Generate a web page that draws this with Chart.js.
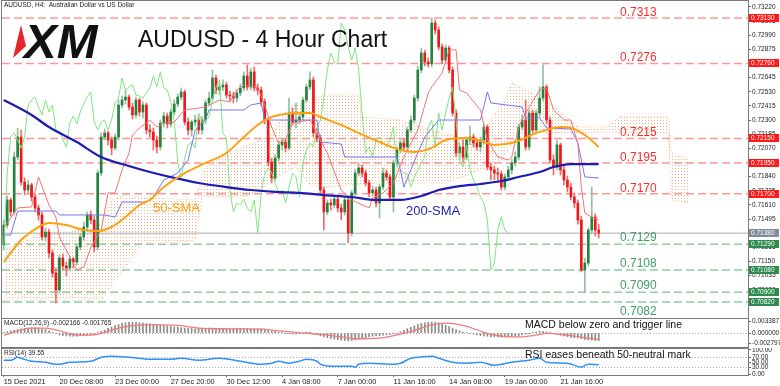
<!DOCTYPE html>
<html>
<head>
<meta charset="utf-8">
<title>AUDUSD - 4 Hour Chart</title>
<script src="https://cdn.jsdelivr.net/npm/chart.js@4.4.1/dist/chart.umd.min.js"></script>
<style>
  html, body { margin: 0; padding: 0; background: #fff; }
  #wrap { position: relative; width: 780px; height: 386px; overflow: hidden; background: #fff; }
  #wrap canvas { position: absolute; left: 0; }
</style>
</head>
<body>
<div id="wrap">
  <canvas id="priceChart" width="780" height="319" style="top:0"></canvas>
  <canvas id="macdChart" width="780" height="30" style="top:318px"></canvas>
  <canvas id="rsiChart" width="780" height="38" style="top:348px"></canvas>
</div>
<script>
const FONT = '"Liberation Sans", Arial, sans-serif';

// one entry per 4-hour bar, bar 0 = 15 Dec 2021 16:00
const firstOpen = 0.71284;
const closes = [
  0.71446, 0.71650, 0.71552, 0.71999, 0.72162, 0.71796, 0.71731, 0.71772, 0.71674, 0.71585,
  0.71528, 0.71349, 0.71389, 0.71219, 0.71056, 0.70918, 0.71178, 0.71113, 0.71096, 0.71170,
  0.71145, 0.71267, 0.71349, 0.71430, 0.71528, 0.71487, 0.71267, 0.71869, 0.72162, 0.72195,
  0.72138, 0.72073, 0.72162, 0.72422, 0.72463, 0.72487, 0.72406, 0.72341, 0.72463, 0.72365,
  0.72422, 0.72219, 0.72203, 0.72138, 0.72081, 0.72276, 0.72333, 0.72268, 0.72365, 0.72430,
  0.72487, 0.72528, 0.72284, 0.72219, 0.72284, 0.72300, 0.72219, 0.72300, 0.72439, 0.72479,
  0.72642, 0.72544, 0.72569, 0.72585, 0.72504, 0.72496, 0.72479, 0.72520, 0.72561, 0.72658,
  0.72569, 0.72691, 0.72561, 0.72544, 0.72447, 0.72300, 0.71959, 0.71829, 0.71991, 0.72097,
  0.72121, 0.72073, 0.72357, 0.72284, 0.72300, 0.72325, 0.72463, 0.72569, 0.72626, 0.72195,
  0.72154, 0.71731, 0.71552, 0.71625, 0.71609, 0.71658, 0.71585, 0.71552, 0.71650, 0.71381,
  0.71707, 0.71869, 0.71910, 0.71869, 0.71788, 0.71707, 0.71731, 0.71625, 0.71755, 0.71869,
  0.71837, 0.71674, 0.71951, 0.72056, 0.72113, 0.72081, 0.72219, 0.72300, 0.72479, 0.72707,
  0.72845, 0.72772, 0.72756, 0.73089, 0.73032, 0.72894, 0.72788, 0.72886, 0.72707, 0.72357,
  0.72032, 0.72081, 0.71999, 0.72138, 0.72162, 0.72113, 0.72081, 0.72138, 0.72243, 0.71918,
  0.71894, 0.71869, 0.71861, 0.71755, 0.71837, 0.71894, 0.71951, 0.71999, 0.72243, 0.72300,
  0.72081, 0.72357, 0.72219, 0.72357, 0.72479, 0.72569, 0.72300, 0.71975, 0.71918, 0.72097,
  0.71894, 0.71812, 0.71755, 0.71674, 0.71625, 0.71487, 0.71080, 0.71137, 0.71406, 0.71511,
  0.71406, 0.71380
];
const highs = [
  0.71487, 0.71682, 0.71666, 0.72040, 0.72235, 0.72219, 0.71829, 0.71812, 0.71788, 0.71698,
  0.71609, 0.71552, 0.71422, 0.71414, 0.71243, 0.71096, 0.71202, 0.71210, 0.71145, 0.71194,
  0.71186, 0.71284, 0.71373, 0.71471, 0.71552, 0.71560, 0.71519, 0.71894, 0.72195, 0.72227,
  0.72211, 0.72162, 0.72186, 0.72463, 0.72496, 0.72544, 0.72504, 0.72439, 0.72487, 0.72479,
  0.72447, 0.72439, 0.72260, 0.72235, 0.72170, 0.72300, 0.72365, 0.72357, 0.72390, 0.72463,
  0.72512, 0.72561, 0.72544, 0.72317, 0.72300, 0.72341, 0.72325, 0.72325, 0.72463, 0.72528,
  0.72707, 0.72666, 0.72601, 0.72626, 0.72609, 0.72536, 0.72528, 0.72544, 0.72593, 0.72691,
  0.72748, 0.72723, 0.72731, 0.72593, 0.72569, 0.72471, 0.72317, 0.71991, 0.72016, 0.72130,
  0.72154, 0.72146, 0.72479, 0.72398, 0.72439, 0.72357, 0.72487, 0.72593, 0.72691, 0.72650,
  0.72235, 0.72178, 0.71755, 0.71650, 0.71658, 0.71682, 0.71682, 0.71617, 0.71674, 0.71674,
  0.71731, 0.71894, 0.71951, 0.71934, 0.71894, 0.71812, 0.71763, 0.71755, 0.71780, 0.71910,
  0.71894, 0.71861, 0.71975, 0.72081, 0.72138, 0.72146, 0.72243, 0.72333, 0.72504, 0.72740,
  0.72886, 0.72870, 0.72805, 0.73130, 0.73114, 0.73057, 0.72918, 0.72910, 0.72902, 0.72731,
  0.72382, 0.72113, 0.72138, 0.72162, 0.72252, 0.72186, 0.72138, 0.72162, 0.72268, 0.72260,
  0.71951, 0.71926, 0.71910, 0.71885, 0.71861, 0.71926, 0.71983, 0.72040, 0.72268, 0.72341,
  0.72463, 0.72382, 0.72382, 0.72382, 0.72569, 0.72748, 0.72585, 0.72325, 0.72016, 0.72138,
  0.72113, 0.71934, 0.71845, 0.71788, 0.71707, 0.71650, 0.71519, 0.71178, 0.71422, 0.71755,
  0.71536, 0.71454
];
const lows = [
  0.71243, 0.71422, 0.71519, 0.71528, 0.71975, 0.71772, 0.71690, 0.71707, 0.71641, 0.71552,
  0.71487, 0.71324, 0.71316, 0.71178, 0.71023, 0.70812, 0.70893, 0.71080, 0.71031, 0.71072,
  0.71096, 0.71121, 0.71243, 0.71324, 0.71406, 0.71454, 0.71227, 0.71243, 0.71845, 0.72138,
  0.72097, 0.72016, 0.72056, 0.72138, 0.72398, 0.72430, 0.72382, 0.72308, 0.72317, 0.72333,
  0.72317, 0.72186, 0.72162, 0.72056, 0.72032, 0.72056, 0.72243, 0.72235, 0.72243, 0.72341,
  0.72406, 0.72463, 0.72260, 0.72178, 0.72170, 0.72252, 0.72186, 0.72186, 0.72268, 0.72414,
  0.72455, 0.72512, 0.72504, 0.72536, 0.72479, 0.72455, 0.72439, 0.72447, 0.72496, 0.72536,
  0.72544, 0.72544, 0.72536, 0.72504, 0.72414, 0.72268, 0.71926, 0.71788, 0.71804, 0.71967,
  0.72056, 0.72040, 0.72056, 0.72260, 0.72235, 0.72268, 0.72300, 0.72439, 0.72544, 0.72162,
  0.72121, 0.71707, 0.71406, 0.71528, 0.71568, 0.71585, 0.71552, 0.71487, 0.71528, 0.71300,
  0.71357, 0.71682, 0.71845, 0.71837, 0.71763, 0.71674, 0.71682, 0.71593, 0.71503, 0.71731,
  0.71812, 0.71650, 0.71552, 0.71926, 0.72032, 0.72056, 0.72056, 0.72203, 0.72276, 0.72455,
  0.72683, 0.72740, 0.72731, 0.72731, 0.73000, 0.72870, 0.72756, 0.72764, 0.72683, 0.72333,
  0.71999, 0.71975, 0.71959, 0.71975, 0.72097, 0.72081, 0.72056, 0.72040, 0.72105, 0.71894,
  0.71812, 0.71812, 0.71796, 0.71731, 0.71731, 0.71812, 0.71861, 0.71926, 0.71975, 0.72219,
  0.72056, 0.72056, 0.72195, 0.72195, 0.72325, 0.72455, 0.72268, 0.71951, 0.71853, 0.71894,
  0.71853, 0.71772, 0.71715, 0.71650, 0.71585, 0.71454, 0.71064, 0.70901, 0.71113, 0.71373,
  0.71357, 0.71340
];

// indicator lines as [bar, price]
const sma50 = [
  [0, 0.71145], [5, 0.71324], [10, 0.71430], [13, 0.71463], [18, 0.71446], [23, 0.71406],
  [27, 0.71397], [31, 0.71430], [35, 0.71511], [39, 0.71609], [42, 0.71650], [46, 0.71755],
  [52, 0.71869], [58, 0.71951], [64, 0.72032], [69, 0.72162], [73, 0.72260], [77, 0.72325],
  [81, 0.72349], [85, 0.72357], [88, 0.72357], [91, 0.72325], [97, 0.72260], [102, 0.72195],
  [108, 0.72121], [114, 0.72056], [118, 0.72040], [123, 0.72073], [127, 0.72138], [133, 0.72154],
  [138, 0.72121], [141, 0.72097], [147, 0.72121], [153, 0.72195], [156, 0.72219], [160, 0.72243],
  [163, 0.72235], [167, 0.72178], [171, 0.72081]
];
const sma200 = [
  [0, 0.72463], [8, 0.72341], [13, 0.72243], [21, 0.72121], [28, 0.71999], [35, 0.71934],
  [42, 0.71877], [49, 0.71829], [56, 0.71788], [64, 0.71755], [71, 0.71731], [78, 0.71715],
  [85, 0.71707], [92, 0.71690], [100, 0.71674], [107, 0.71650], [114, 0.71650], [120, 0.71682],
  [125, 0.71731], [131, 0.71763], [137, 0.71780], [143, 0.71804], [148, 0.71837], [154, 0.71877],
  [158, 0.71918], [163, 0.71942], [171, 0.71942]
];
const tenkan = [
  [0, 0.71422], [4, 0.71585], [8, 0.71593], [10, 0.71837], [13, 0.71609], [15, 0.71511],
  [16, 0.71349], [21, 0.71080], [23, 0.71105], [25, 0.71259], [28, 0.71406], [30, 0.71707],
  [32, 0.71707], [34, 0.71894], [36, 0.72032], [37, 0.72178], [39, 0.72235], [42, 0.72300],
  [44, 0.72243], [46, 0.72276], [49, 0.72284], [52, 0.72382], [58, 0.72406], [62, 0.72463],
  [65, 0.72447], [67, 0.72544], [69, 0.72585], [73, 0.72569], [75, 0.72422], [77, 0.72243],
  [79, 0.72113], [81, 0.72138], [83, 0.72276], [88, 0.72300], [91, 0.72138], [93, 0.72032],
  [97, 0.71731], [100, 0.71650], [105, 0.71585], [106, 0.71666], [109, 0.71707], [112, 0.71788],
  [115, 0.71999], [119, 0.72219], [122, 0.72520], [123, 0.72569], [126, 0.72683], [128, 0.72870],
  [130, 0.72870], [131, 0.72544], [133, 0.72520], [137, 0.72382], [139, 0.72138], [142, 0.71999],
  [145, 0.71975], [146, 0.71999], [148, 0.72243], [150, 0.72357], [154, 0.72544], [156, 0.72561],
  [158, 0.72382], [161, 0.72300], [163, 0.72300], [165, 0.72113], [166, 0.71755], [167, 0.71544],
  [169, 0.71511], [171, 0.71487]
];
const kijun = [
  [0, 0.71365], [2, 0.71365], [4, 0.71560], [15, 0.71560], [16, 0.71528], [29, 0.71528],
  [32, 0.71511], [34, 0.71633], [41, 0.71633], [43, 0.71674], [46, 0.71812], [50, 0.71869],
  [53, 0.71975], [55, 0.72219], [58, 0.72300], [59, 0.72382], [69, 0.72382], [71, 0.72422],
  [74, 0.72439], [75, 0.72300], [90, 0.72300], [91, 0.72121], [97, 0.72105], [98, 0.71999],
  [113, 0.71999], [114, 0.71894], [115, 0.71755], [117, 0.71894], [119, 0.72032], [121, 0.72162],
  [125, 0.72300], [137, 0.72300], [139, 0.72528], [140, 0.72439], [149, 0.72406], [150, 0.72317],
  [154, 0.72317], [156, 0.72235], [163, 0.72227], [165, 0.72113], [167, 0.71837], [171, 0.71829]
];
const chikouShift = 26;
const cloudUpper = [
  [0, 0.71243], [5, 0.71300], [11, 0.71381], [19, 0.71389], [27, 0.71422], [29, 0.71528],
  [31, 0.71650], [35, 0.71690], [39, 0.71674], [42, 0.71666], [55, 0.71650], [57, 0.71853],
  [58, 0.71918], [67, 0.72056], [77, 0.72178], [82, 0.72406], [92, 0.72504], [102, 0.72504],
  [103, 0.72325], [114, 0.72300], [123, 0.72219], [133, 0.72138], [137, 0.72138], [140, 0.72300],
  [144, 0.72463], [146, 0.72601], [156, 0.72463], [165, 0.72243], [173, 0.72243], [177, 0.72325],
  [191, 0.72325], [192, 0.72032], [197, 0.71975]
];
const cloudLower = [
  [0, 0.70836], [28, 0.70836], [36, 0.71145], [40, 0.71300], [49, 0.71300], [55, 0.71324],
  [57, 0.71674], [69, 0.71674], [74, 0.71731], [77, 0.71812], [84, 0.71918], [88, 0.71772],
  [92, 0.71755], [107, 0.71788], [127, 0.71788], [137, 0.71894], [143, 0.71975], [147, 0.72138],
  [151, 0.72219], [156, 0.72195], [173, 0.72203], [191, 0.72195], [192, 0.71650], [197, 0.71625]
];

const resistLevels = [0.7313, 0.7276, 0.7215, 0.7195, 0.7170];
const supportLevels = [0.7129, 0.7108, 0.7090, 0.7082];
const lastPrice = 0.7138;

const priceTicks = [
  0.70805, 0.70920, 0.71035, 0.71150, 0.71265, 0.71380, 0.71495, 0.71610, 0.71725, 0.71840, 0.71955,
  0.72070, 0.72185, 0.72300, 0.72415, 0.72530, 0.72645, 0.72760, 0.72875, 0.72990, 0.73105, 0.73220
];

// MACD(12,26,9): main line drawn as histogram, signal as line
const macdHist = [
  0.0002, 0.0004, 0.0006, 0.0008, 0.0010, 0.0012, 0.0013, 0.0014, 0.0015, 0.0015,
  0.0014, 0.0012, 0.0010, 0.0006, 0.0002, -0.0002, -0.0005, -0.0007, -0.0008, -0.0009,
  -0.0009, -0.0009, -0.0008, -0.0007, -0.0006, -0.0004, -0.0002, 0.0001, 0.0004, 0.0008,
  0.0013, 0.0017, 0.0021, 0.0024, 0.0027, 0.0029, 0.0030, 0.0030, 0.0030, 0.0029,
  0.0028, 0.0027, 0.0026, 0.0025, 0.0024, 0.0023, 0.0022, 0.0020, 0.0019, 0.0017,
  0.0016, 0.0015, 0.0014, 0.0013, 0.0013, 0.0012, 0.0013, 0.0013, 0.0013, 0.0014,
  0.0014, 0.0013, 0.0013, 0.0012, 0.0012, 0.0012, 0.0012, 0.0013, 0.0013, 0.0013,
  0.0013, 0.0013, 0.0012, 0.0012, 0.0012, 0.0011, 0.0009, 0.0006, 0.0004, 0.0002,
  0.0001, -0.0001, -0.0002, -0.0003, -0.0003, -0.0002, -0.0001, 0.0001, 0.0002, -0.0001,
  -0.0004, -0.0008, -0.0011, -0.0013, -0.0015, -0.0017, -0.0018, -0.0020, -0.0021, -0.0022,
  -0.0021, -0.0019, -0.0017, -0.0015, -0.0013, -0.0011, -0.0009, -0.0008, -0.0007, -0.0006,
  -0.0005, -0.0004, -0.0002, 0.0000, 0.0004, 0.0008, 0.0012, 0.0016, 0.0020, 0.0024,
  0.0027, 0.0029, 0.0030, 0.0031, 0.0030, 0.0029, 0.0026, 0.0022, 0.0018, 0.0014,
  0.0010, 0.0006, 0.0003, 0.0001, -0.0001, -0.0003, -0.0005, -0.0007, -0.0008, -0.0009,
  -0.0010, -0.0010, -0.0011, -0.0011, -0.0010, -0.0010, -0.0009, -0.0008, -0.0007, -0.0005,
  -0.0003, -0.0001, 0.0001, 0.0003, 0.0005, 0.0005, 0.0003, 0.0001, -0.0002, -0.0004,
  -0.0006, -0.0008, -0.0010, -0.0012, -0.0013, -0.0014, -0.0016, -0.0018, -0.0019, -0.0020,
  -0.0021, -0.00217
];
const macdSignal = [
  [0, -0.0006], [8, 0.0014], [12, 0.0014], [15, 0.0009], [21, -0.0006], [25, -0.0006],
  [28, -0.0001], [33, 0.0014], [41, 0.0023], [45, 0.0023], [51, 0.0021], [56, 0.0014],
  [65, 0.0012], [74, 0.0011], [79, 0.0006], [85, 0.0001], [91, -0.0004], [97, -0.0011],
  [101, -0.0016], [108, -0.0014], [117, 0.0004], [123, 0.0023], [127, 0.0028], [133, 0.0019],
  [139, -0.0001], [143, -0.0009], [148, -0.0011], [153, -0.0006], [156, -0.0001], [162, -0.0006],
  [168, -0.0014], [171, -0.001765]
];
const macdTicks = [-0.002797, 0, 0.003387];

// RSI(14) as [bar, value]
const rsi = [
  [0, 58], [2, 58], [4, 70], [5, 66], [8, 54], [12, 50], [15, 42], [16, 42], [19, 50],
  [25, 54], [28, 70], [31, 74], [36, 70], [39, 66], [42, 62], [48, 62], [51, 66], [56, 58],
  [62, 66], [68, 54], [74, 42], [77, 46], [79, 54], [82, 46], [85, 54], [87, 62], [90, 54],
  [91, 42], [94, 34], [100, 34], [101, 30], [102, 42], [105, 46], [111, 42], [114, 46],
  [117, 66], [119, 70], [123, 74], [125, 66], [129, 50], [133, 46], [137, 50], [141, 38],
  [146, 50], [151, 58], [154, 66], [156, 50], [162, 46], [166, 30], [168, 42], [171, 39.55]
];
const rsiTicks = [0, 30, 50, 70, 100];
const rsiGuides = [30, 70];

const dateTickBars = [0, 16, 32, 48, 64, 80, 96, 112, 128, 144, 160];
const dateTickLabels = [
  '15 Dec 2021', '20 Dec 08:00', '23 Dec 00:00', '27 Dec 20:00', '30 Dec 12:00', '4 Jan 08:00',
  '7 Jan 00:00', '11 Jan 16:00', '14 Jan 08:00', '19 Jan 00:00', '21 Jan 16:00'
];

const X_MIN = -0.5, X_MAX = 213.9;

const pts = arr => arr.map(([x, y]) => ({ x, y }));
const opens = [firstOpen].concat(closes.slice(0, -1));
const isUp = closes.map((c, i) => c >= opens[i]);

function hLine(ctx, a, py, color) {
  ctx.strokeStyle = color;
  ctx.beginPath();
  ctx.moveTo(a.left, py);
  ctx.lineTo(a.right, py);
  ctx.stroke();
}

function axisTag(ctx, x, py, text, bg) {
  ctx.fillStyle = bg;
  ctx.fillRect(x, Math.round(py) - 4, 30, 8);
  ctx.fillStyle = '#fff';
  ctx.fillText(text, x + 2, Math.round(py) + 0.5);
}

function frame(ctx, a) {
  ctx.strokeStyle = '#7a7a7a';
  ctx.lineWidth = 1;
  ctx.setLineDash([]);
  ctx.strokeRect(a.left - 0.5, a.top - 0.5, a.right - a.left + 1, a.bottom - a.top + 1);
}

function dotPattern(ctx) {
  const c = document.createElement('canvas');
  c.width = 3; c.height = 3;
  const g = c.getContext('2d');
  g.fillStyle = 'rgba(240,150,95,0.75)';
  g.fillRect(0, 0, 1, 1);
  return ctx.createPattern(c, 'repeat');
}

const priceDecor = {
  id: 'priceDecor',
  beforeDatasetsDraw(chart) {
    const { ctx, chartArea: a } = chart;
    const y = chart.scales.y;
    ctx.save();
    ctx.beginPath();
    ctx.rect(a.left, a.top, a.right - a.left, a.bottom - a.top);
    ctx.clip();
    ctx.lineWidth = 1.5;
    ctx.setLineDash([8, 4]);
    resistLevels.forEach(v => hLine(ctx, a, y.getPixelForValue(v), '#ff9696'));
    supportLevels.forEach(v => hLine(ctx, a, y.getPixelForValue(v), '#8ccfa6'));
    ctx.setLineDash([]);
    hLine(ctx, a, y.getPixelForValue(lastPrice), '#c4c8cc');
    ctx.restore();
  },
  afterDraw(chart) {
    const { ctx, chartArea: a } = chart;
    const y = chart.scales.y;
    ctx.save();
    frame(ctx, a);

    // level labels
    ctx.font = '12px ' + FONT;
    ctx.textAlign = 'left';
    ctx.textBaseline = 'alphabetic';
    ctx.fillStyle = '#ff2b2b';
    resistLevels.forEach(v => ctx.fillText(v.toFixed(4), 620, y.getPixelForValue(v) - 2));
    ctx.fillStyle = '#3f9e62';
    supportLevels.forEach((v, i) => {
      const py = y.getPixelForValue(v);
      ctx.fillText(v.toFixed(4), 620, i === supportLevels.length - 1 ? py + 13 : py - 3);
    });

    // price tags on the axis
    ctx.font = '6.5px ' + FONT;
    ctx.textBaseline = 'middle';
    const bx = a.right + 1;
    resistLevels.forEach(v => axisTag(ctx, bx, y.getPixelForValue(v), v.toFixed(5), '#ff1a1a'));
    axisTag(ctx, bx, y.getPixelForValue(lastPrice), lastPrice.toFixed(5), '#7f8c99');
    supportLevels.forEach(v => axisTag(ctx, bx, y.getPixelForValue(v), v.toFixed(5), '#2e8b4e'));

    // header, logo, title
    ctx.fillStyle = '#222';
    ctx.textBaseline = 'top';
    ctx.fillText('AUDUSD, H4:  Australian Dollar vs US Dollar', 4, 2);
    ctx.fillStyle = '#e4262c';
    ctx.beginPath();
    ctx.moveTo(21, 25);
    ctx.lineTo(13, 58);
    ctx.lineTo(26, 46);
    ctx.closePath();
    ctx.fill();
    ctx.textBaseline = 'alphabetic';
    ctx.fillStyle = '#111';
    ctx.font = 'italic bold 49px ' + FONT;
    ctx.fillText('XM', 24, 58);
    ctx.font = '23px ' + FONT;
    ctx.fillText('AUDUSD - 4 Hour Chart', 138, 47);

    // moving average tags
    ctx.font = '13px ' + FONT;
    ctx.fillStyle = '#ffa010';
    ctx.fillText('50-SMA', 153, 212);
    ctx.fillStyle = '#1c1cb4';
    ctx.fillText('200-SMA', 406, 215);
    ctx.restore();
  }
};

function panelDecor(guides, label, note, noteY) {
  return {
    id: 'panelDecor',
    beforeDatasetsDraw(chart) {
      const { ctx, chartArea: a } = chart;
      const y = chart.scales.y;
      ctx.save();
      ctx.lineWidth = 1;
      ctx.setLineDash([1, 2]);
      guides.forEach(v => hLine(ctx, a, Math.round(y.getPixelForValue(v)) + 0.5, '#a8a8a8'));
      ctx.restore();
    },
    afterDraw(chart) {
      const { ctx, chartArea: a } = chart;
      ctx.save();
      frame(ctx, a);
      ctx.fillStyle = '#222';
      ctx.font = '6.5px ' + FONT;
      ctx.textAlign = 'left';
      ctx.textBaseline = 'top';
      ctx.fillText(label, 4, a.top + 1);
      ctx.font = '10.5px ' + FONT;
      ctx.textBaseline = 'alphabetic';
      ctx.fillStyle = '#111';
      ctx.fillText(note, 525, a.top + noteY);
      ctx.restore();
    }
  };
}

function rightAxis(min, max, ticks, digits) {
  return {
    position: 'right',
    min, max,
    afterBuildTicks: s => { s.ticks = ticks.map(v => ({ value: v })); },
    afterFit: s => { s.width = 32; s.paddingTop = 0; s.paddingBottom = 0; },
    grid: { drawOnChartArea: false, drawTicks: true, tickLength: 3, color: '#666' },
    border: { display: true, color: '#666' },
    ticks: {
      autoSkip: false, padding: 1, color: '#222',
      font: { family: FONT, size: 6.5 },
      callback: v => Number(v).toFixed(digits)
    }
  };
}

// bar charts put an offset on the x scale by default; keep bar i at the same place in all panels
const barX = { type: 'linear', min: X_MIN, max: X_MAX, offset: false, display: false };

const baseOptions = {
  responsive: false,
  animation: false,
  events: [],
  devicePixelRatio: 1,
  plugins: { legend: { display: false }, tooltip: { enabled: false } }
};

const priceCtx = document.getElementById('priceChart').getContext('2d');
const cloudFill = dotPattern(priceCtx);

new Chart(priceCtx, {
  type: 'bar',
  data: {
    datasets: [
      { type: 'line', data: pts(sma50), borderColor: '#ffa010', borderWidth: 2,
        pointRadius: 0, cubicInterpolationMode: 'monotone', order: 1 },
      { type: 'line', data: pts(sma200), borderColor: '#1c1cb4', borderWidth: 2.2,
        pointRadius: 0, cubicInterpolationMode: 'monotone', order: 1 },
      { type: 'line', data: pts(tenkan), borderColor: '#f27474', borderWidth: 1,
        pointRadius: 0, order: 2 },
      { type: 'line', data: pts(kijun), borderColor: '#7676ee', borderWidth: 1,
        pointRadius: 0, order: 2 },
      { type: 'line', data: closes.slice(chikouShift).map((c, i) => ({ x: i, y: c })),
        borderColor: '#7ee67e', borderWidth: 1, pointRadius: 0, order: 2 },
      { type: 'bar', data: closes.map((c, i) => ({ x: i, y: [lows[i], highs[i]] })),
        backgroundColor: isUp.map(u => u ? '#93bfa0' : '#f06a6a'),
        barThickness: 1, grouped: false, order: 4 },
      { type: 'bar', data: closes.map((c, i) => ({ x: i, y: [opens[i], c] })),
        backgroundColor: isUp.map(u => u ? '#23823f' : '#f01818'),
        barThickness: 2, grouped: false, minBarLength: 1, order: 3 },
      { type: 'line', data: pts(cloudUpper), borderColor: 'rgba(240,150,95,0.6)', borderWidth: 1,
        borderDash: [1, 2], pointRadius: 0, fill: '+1', backgroundColor: cloudFill, order: 10 },
      { type: 'line', data: pts(cloudLower), borderColor: 'rgba(240,150,95,0.6)', borderWidth: 1,
        borderDash: [1, 2], pointRadius: 0, fill: false, order: 11 }
    ]
  },
  options: Object.assign({}, baseOptions, {
    layout: { padding: { left: 2, top: 1, right: 0, bottom: 1 } },
    scales: {
      x: barX,
      y: rightAxis(0.70690, 0.73268, priceTicks, 5)
    }
  }),
  plugins: [priceDecor]
});

new Chart(document.getElementById('macdChart'), {
  type: 'bar',
  data: {
    datasets: [
      { type: 'line', data: pts(macdSignal), borderColor: '#f37b7b', borderWidth: 1.3,
        pointRadius: 0, cubicInterpolationMode: 'monotone', order: 1 },
      { type: 'bar', data: macdHist.map((v, i) => ({ x: i, y: v })), backgroundColor: '#8a8a8a',
        barThickness: 1, grouped: false, order: 2 }
    ]
  },
  options: Object.assign({}, baseOptions, {
    layout: { padding: { left: 2, top: 1, right: 0, bottom: 1 } },
    scales: {
      x: Object.assign({}, barX),
      y: rightAxis(-0.00392, 0.00395, macdTicks, 6)
    }
  }),
  plugins: [panelDecor([0], 'MACD(12,26,9) -0.002166 -0.001765', 'MACD below zero and trigger line', 9)]
});

new Chart(document.getElementById('rsiChart'), {
  type: 'line',
  data: {
    datasets: [
      { data: pts(rsi), borderColor: '#2f8fff', borderWidth: 1.5, pointRadius: 0,
        cubicInterpolationMode: 'monotone' }
    ]
  },
  options: Object.assign({}, baseOptions, {
    layout: { padding: { left: 2, top: 1, right: 0, bottom: 0 } },
    scales: {
      x: {
        type: 'linear', min: X_MIN, max: X_MAX, position: 'bottom', offset: false,
        afterBuildTicks: s => { s.ticks = dateTickBars.map(v => ({ value: v })); },
        afterFit: s => { s.height = 11; s.paddingLeft = 0; s.paddingRight = 0; },
        grid: { drawOnChartArea: false, drawTicks: true, tickLength: 2, color: '#666' },
        border: { display: false },
        ticks: {
          autoSkip: false, maxRotation: 0, align: 'start', padding: 1, color: '#222',
          font: { family: FONT, size: 7.4 },
          callback: (v, i) => dateTickLabels[i]
        }
      },
      y: rightAxis(-2, 104, rsiTicks, 2)
    }
  }),
  plugins: [panelDecor(rsiGuides, 'RSI(14) 39.55', 'RSI eases beneath 50-neutral mark', 9)]
});
</script>
</body>
</html>
